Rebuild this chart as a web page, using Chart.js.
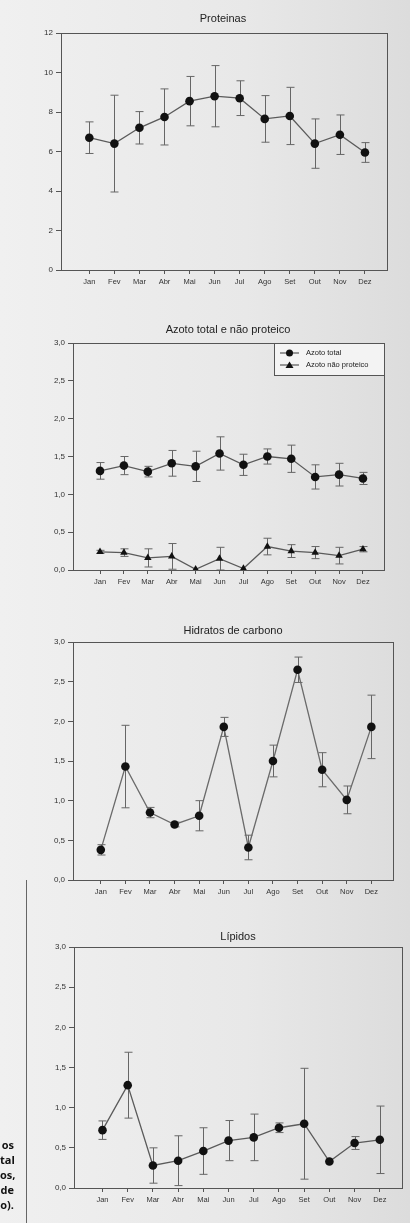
<!DOCTYPE html>
<html>
<head>
<meta charset="utf-8">
<script src="https://cdn.jsdelivr.net/npm/chart.js@4.4.1/dist/chart.umd.min.js"></script>
<style>
  html, body { margin:0; padding:0; }
  body { width:410px; height:1223px; position:relative; overflow:hidden;
         background: linear-gradient(to right, #f0f0f0 0%, #e8e8e8 60%, #dcdcdc 100%);
         font-family: "Liberation Sans", Arial, sans-serif; }
  .box { position:absolute; left:0; width:410px; }
  .title { position:absolute; font-size:11px; color:#222; transform:translate(-50%,-50%); white-space:nowrap; }
  .frag { position:absolute; left:0; font: bold 11px "Open Sans", "Liberation Sans", sans-serif; color:#111; line-height:15px; }
  .vline { position:absolute; left:26px; top:880px; width:1px; height:343px; background:#666; }
</style>
</head>
<body>
<script>
// ---------- data ----------
const months = ['Jan','Fev','Mar','Abr','Mai','Jun','Jul','Ago','Set','Out','Nov','Dez'];

const proteinasMean = [6.7, 6.4, 7.2, 7.75, 8.55, 8.8, 8.7, 7.65, 7.8, 6.4, 6.85, 5.95];
const proteinasSD   = [0.8, 2.45, 0.82, 1.42, 1.25, 1.55, 0.88, 1.18, 1.45, 1.25, 1.0, 0.5];

const azotoTotalMean = [1.31, 1.38, 1.30, 1.41, 1.37, 1.54, 1.39, 1.50, 1.47, 1.23, 1.26, 1.21];
const azotoTotalSD   = [0.11, 0.12, 0.07, 0.17, 0.20, 0.22, 0.14, 0.10, 0.18, 0.16, 0.15, 0.08];
const azotoNPMean    = [0.24, 0.23, 0.16, 0.18, 0.01, 0.15, 0.02, 0.31, 0.25, 0.23, 0.19, 0.275];
const azotoNPSD      = [0.02, 0.05, 0.12, 0.17, 0, 0.15, 0, 0.11, 0.085, 0.08, 0.11, 0.035];

const hidratosMean = [0.38, 1.43, 0.85, 0.70, 0.81, 1.93, 0.41, 1.50, 2.65, 1.39, 1.01, 1.93];
const hidratosSD   = [0.065, 0.52, 0.065, 0.03, 0.19, 0.12, 0.155, 0.20, 0.16, 0.215, 0.175, 0.40];

const lipidosMean = [0.72, 1.28, 0.28, 0.34, 0.46, 0.59, 0.63, 0.75, 0.80, 0.33, 0.56, 0.60];
const lipidosSD   = [0.115, 0.41, 0.22, 0.31, 0.29, 0.25, 0.29, 0.06, 0.69, 0, 0.08, 0.42];

const titles = ['Proteinas', 'Azoto total e não proteico', 'Hidratos de carbono', 'Lípidos'];
const legendLabels = ['Azoto total', 'Azoto não proteico'];
const pageFragments = ['os', 'tal', 'os,', 'de', 'o).'];

// ---------- layout (plot areas in page px) ----------
const panels = [
  { L:61, T:33,  R:387, B:270,  title:[223,18],  yMax:12, yStep:2,   dec:0 },
  { L:73, T:343, R:384, B:570,  title:[228,329], yMax:3,  yStep:0.5, dec:1 },
  { L:73, T:642, R:393, B:880,  title:[233,630], yMax:3,  yStep:0.5, dec:1 },
  { L:74, T:947, R:402, B:1188, title:[238,936], yMax:3,  yStep:0.5, dec:1 }
];

const AX = '#555';
const FONT = '"Liberation Sans", Arial, sans-serif';

const errorBars = {
  id: 'errorBars',
  beforeDatasetsDraw(chart) {
    const ctx = chart.ctx, ys = chart.scales.y, xs = chart.scales.x;
    ctx.save();
    ctx.strokeStyle = '#666';
    ctx.lineWidth = 1;
    chart.data.datasets.forEach(ds => {
      const sd = ds.sd; if (!sd) return;
      ds.data.forEach((p, i) => {
        if (!sd[i]) return;
        const x = Math.round(xs.getPixelForValue(p.x)) + 0.5;
        const y1 = ys.getPixelForValue(p.y + sd[i]);
        const y2 = ys.getPixelForValue(Math.max(0, p.y - sd[i]));
        ctx.beginPath();
        ctx.moveTo(x, y1); ctx.lineTo(x, y2);
        ctx.moveTo(x - 4, y1); ctx.lineTo(x + 4, y1);
        ctx.moveTo(x - 4, y2); ctx.lineTo(x + 4, y2);
        ctx.stroke();
      });
    });
    ctx.restore();
  }
};

const frame = {
  id: 'frame',
  afterDraw(chart) {
    const a = chart.chartArea, ctx = chart.ctx;
    ctx.save();
    ctx.strokeStyle = AX; ctx.lineWidth = 1;
    ctx.strokeRect(Math.round(a.left) + 0.5, Math.round(a.top) + 0.5,
                   Math.round(a.right - a.left), Math.round(a.bottom - a.top));
    ctx.restore();
  }
};

function makeLegend(boxPage, canvasTop) {
  return {
    id: 'boxLegend',
    afterDraw(chart) {
      const ctx = chart.ctx;
      const x0 = boxPage[0], y0 = boxPage[1] - canvasTop, w = boxPage[2], h = boxPage[3];
      ctx.save();
      ctx.fillStyle = 'rgba(245,245,245,0.9)';
      ctx.fillRect(x0, y0, w, h);
      ctx.strokeStyle = AX; ctx.lineWidth = 1;
      ctx.strokeRect(x0 + 0.5, y0 + 0.5, w, h);
      chart.data.datasets.forEach((ds, i) => {
        const cy = y0 + 10 + i * 12;
        ctx.strokeStyle = ds.borderColor; ctx.lineWidth = 1.2;
        ctx.beginPath(); ctx.moveTo(x0 + 6, cy); ctx.lineTo(x0 + 25, cy); ctx.stroke();
        ctx.fillStyle = '#111';
        if (ds.pointStyle === 'triangle') {
          ctx.beginPath();
          ctx.moveTo(x0 + 15.5, cy - 3.5); ctx.lineTo(x0 + 19.5, cy + 3); ctx.lineTo(x0 + 11.5, cy + 3);
          ctx.closePath(); ctx.fill();
        } else {
          ctx.beginPath(); ctx.arc(x0 + 15.5, cy, 3.5, 0, Math.PI * 2); ctx.fill();
        }
        ctx.fillStyle = '#222';
        ctx.font = '7.5px ' + FONT;
        ctx.textBaseline = 'middle';
        ctx.fillText(ds.label, x0 + 32, cy);
      });
      ctx.restore();
    }
  };
}

function series(label, mean, sd, style, color) {
  return {
    label, sd,
    data: mean.map((v, i) => ({ x: i, y: v })),
    borderColor: color || '#5a5a5a',
    borderWidth: 1.3,
    pointStyle: style,
    pointRadius: 4.3,
    pointBackgroundColor: '#111',
    pointBorderColor: '#111',
    pointBorderWidth: 0,
    tension: 0
  };
}

const datasetsPerPanel = [
  [series('Proteinas', proteinasMean, proteinasSD, 'circle')],
  [series(legendLabels[0], azotoTotalMean, azotoTotalSD, 'circle'),
   series(legendLabels[1], azotoNPMean, azotoNPSD, 'triangle')],
  [series('Hidratos de carbono', hidratosMean, hidratosSD, 'circle', '#6a6a6a')],
  [series('Lípidos', lipidosMean, lipidosSD, 'circle')]
];

const YW = 40, XH = 25, PADT = 10;

panels.forEach((p, k) => {
  const top = p.T - PADT;
  const h = (p.B - p.T) + PADT + XH;
  const div = document.createElement('div');
  div.className = 'box';
  div.style.top = top + 'px';
  div.style.height = h + 'px';
  const cv = document.createElement('canvas');
  div.appendChild(cv);
  document.body.appendChild(div);

  const t = document.createElement('div');
  t.className = 'title';
  t.textContent = titles[k];
  t.style.left = p.title[0] + 'px';
  t.style.top = p.title[1] + 'px';
  document.body.appendChild(t);

  const plugins = [errorBars, frame];
  if (k === 1) plugins.push(makeLegend([274, 343, 110, 32], top));

  new Chart(cv, {
    type: 'line',
    data: { datasets: datasetsPerPanel[k] },
    plugins,
    options: {
      responsive: true,
      maintainAspectRatio: false,
      animation: false,
      layout: { padding: { left: p.L - YW, right: 410 - p.R, top: PADT, bottom: 0 } },
      plugins: { legend: { display: false }, title: { display: false }, tooltip: { enabled: false } },
      scales: {
        x: {
          type: 'linear', min: -1.13, max: 11.88,
          afterBuildTicks: s => { s.ticks = months.map((m, i) => ({ value: i })); },
          afterFit: s => { s.height = XH; },
          ticks: { callback: v => months[v], color: '#333', font: { family: FONT, size: 7.5 }, padding: 3, maxRotation: 0, autoSkip: false },
          grid: { drawOnChartArea: false, drawTicks: true, tickLength: 4, color: AX },
          border: { display: true, color: AX, width: 1 }
        },
        y: {
          min: 0, max: p.yMax,
          afterFit: s => { s.width = YW; },
          ticks: { stepSize: p.yStep, callback: v => v.toFixed(p.dec).replace('.', ','), color: '#333', font: { family: FONT, size: 8 }, padding: 3 },
          grid: { drawOnChartArea: false, drawTicks: true, tickLength: 5, color: AX },
          border: { display: true, color: AX, width: 1 }
        }
      }
    }
  });
});

// page fragments at bottom-left
const frag = document.createElement('div');
frag.className = 'frag';
frag.style.top = '1137px';
frag.style.textAlign = 'right';
frag.style.width = '14px';
frag.innerHTML = pageFragments.map(s => '<div>' + s + '</div>').join('');
document.body.appendChild(frag);
const vl = document.createElement('div');
vl.className = 'vline';
document.body.appendChild(vl);
</script>
</body>
</html>
